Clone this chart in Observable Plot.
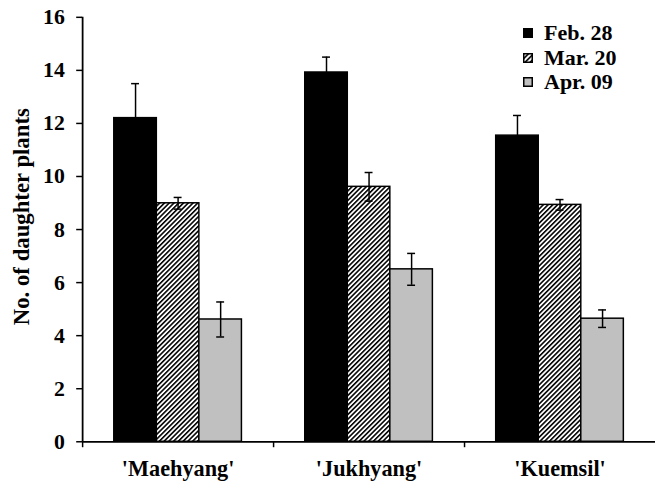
<!DOCTYPE html>
<html>
<head>
<meta charset="utf-8">
<script src="https://cdn.jsdelivr.net/npm/d3@7"></script>
<script src="https://cdn.jsdelivr.net/npm/@observablehq/plot@0.6"></script>
<style>
  html, body { margin: 0; padding: 0; background: #fff; overflow: hidden; }
  #wrap { position: relative; width: 655px; height: 486px; overflow: hidden; }
  #legend { position: absolute; left: 523px; top: 21px; font-family: "Liberation Serif", serif; font-weight: bold; font-size: 22px; color: #000; }
  #legend .row { display: flex; align-items: center; height: 24.5px; line-height: 24.5px; }
  #legend svg { margin-right: 11px; }
</style>
</head>
<body>
<div id="wrap"><div id="legend"></div></div>
<script>
const cultivars = ["'Maehyang'", "'Jukhyang'", "'Kuemsil'"];
const dates = ["Feb. 28", "Mar. 20", "Apr. 09"];
const febValues = [12.2, 13.92, 11.54];
const febErrors = [1.3, 0.58, 0.76];
const marValues = [8.99, 9.61, 8.93];
const marErrors = [0.22, 0.54, 0.2];
const aprValues = [4.61, 6.5, 4.64];
const aprErrors = [0.66, 0.6, 0.33];
const yTicks = [0, 2, 4, 6, 8, 10, 12, 14, 16];
const yLabel = "No. of daughter plants";
const fills = ["#000000", "url(#hatch)", "#c0c0c0"];

const series = [
  {date: dates[0], values: febValues, errors: febErrors},
  {date: dates[1], values: marValues, errors: marErrors},
  {date: dates[2], values: aprValues, errors: aprErrors}
];

const width = 662, height = 486;
const marginLeft = 83, marginRight = 0, marginTop = 17, marginBottom = 40;
const bw = (width - marginLeft - marginRight) / cultivars.length;
const barW = 43;
const off = (bw - dates.length * barW) / 2;
const capHalf = 4;

const marks = [];
series.forEach((s, i) => {
  const rows = cultivars.map((c, j) => ({cultivar: c, value: s.values[j], err: s.errors[j]}));
  marks.push(Plot.barY(rows, {
    x: "cultivar", y: "value", fill: fills[i], stroke: "#000", strokeWidth: 1.5,
    insetLeft: off + i * barW, insetRight: bw - off - (i + 1) * barW
  }));
});
series.forEach((s, i) => {
  const rows = cultivars.map((c, j) => ({cultivar: c, lo: s.values[j] - s.errors[j], hi: s.values[j] + s.errors[j]}));
  const center = off + i * barW + barW / 2;
  marks.push(Plot.ruleX(rows, {x: "cultivar", y1: "lo", y2: "hi", stroke: "#000", strokeWidth: 1.5, dx: center - bw / 2}));
  for (const key of ["lo", "hi"]) {
    marks.push(Plot.tickY(rows, {x: "cultivar", y: key, stroke: "#000", strokeWidth: 1.5,
      insetLeft: center - capHalf, insetRight: bw - center - capHalf}));
  }
});
marks.push(Plot.ruleY([0], {stroke: "#000", strokeWidth: 1.8}));
marks.push(Plot.ruleX([cultivars[0]], {y1: 0, y2: 16, dx: -bw / 2, stroke: "#000", strokeWidth: 1.8}));
marks.push(Plot.axisX({tickSize: 6, text: null, label: null, dx: -bw / 2, stroke: "#000", strokeWidth: 1.5}));
marks.push(Plot.axisX({tickSize: 0, tickPadding: 19, label: null, fill: "#000", fontSize: 22.5}));
marks.push(Plot.axisY({ticks: yTicks, tickSize: 6, tickPadding: 12, tickFormat: d3.format("d"),
  label: null, stroke: "#000", strokeWidth: 1.5, fill: "#000", fontSize: 22}));
marks.push(Plot.text([yLabel], {text: d => d, frameAnchor: "left", textAnchor: "middle", lineAnchor: "middle",
  rotate: -90, dx: -62, dy: -13, fontSize: 23, fill: "#000"}));

const chart = Plot.plot({
  width, height, marginLeft, marginRight, marginTop, marginBottom,
  style: {fontFamily: "Liberation Serif", fontWeight: "bold", fontSize: "21px", color: "#000", background: "#fff"},
  x: {type: "band", domain: cultivars, padding: 0},
  y: {domain: [0, 16]},
  marks
});

const svg = d3.select(chart);
const defs = svg.insert("defs", ":first-child");
const pat = defs.append("pattern").attr("id", "hatch").attr("patternUnits", "userSpaceOnUse")
  .attr("width", 3.4).attr("height", 3.4).attr("patternTransform", "rotate(45)");
pat.append("rect").attr("width", 3.4).attr("height", 3.4).attr("fill", "#fff");
pat.append("line").attr("x1", 0.8).attr("y1", 0).attr("x2", 0.8).attr("y2", 3.4).attr("stroke", "#000").attr("stroke-width", 1.6);

document.getElementById("wrap").prepend(chart);

const legend = d3.select("#legend");
dates.forEach((d, i) => {
  const row = legend.append("div").attr("class", "row");
  const sw = row.append("svg").attr("width", 10).attr("height", 10);
  if (i === 1) {
    const p = sw.append("defs").append("pattern").attr("id", "hatchL").attr("patternUnits", "userSpaceOnUse")
      .attr("width", 3.6).attr("height", 3.6).attr("patternTransform", "rotate(45)");
    p.append("rect").attr("width", 3.6).attr("height", 3.6).attr("fill", "#fff");
    p.append("line").attr("x1", 0.8).attr("y1", 0).attr("x2", 0.8).attr("y2", 3.6).attr("stroke", "#000").attr("stroke-width", 1.6);
  }
  sw.append("rect").attr("x", 0.75).attr("y", 0.75).attr("width", 8.5).attr("height", 8.5)
    .attr("fill", i === 1 ? "url(#hatchL)" : fills[i]).attr("stroke", "#000").attr("stroke-width", 1.5);
  row.append("span").text(d);
});
</script>
</body>
</html>
